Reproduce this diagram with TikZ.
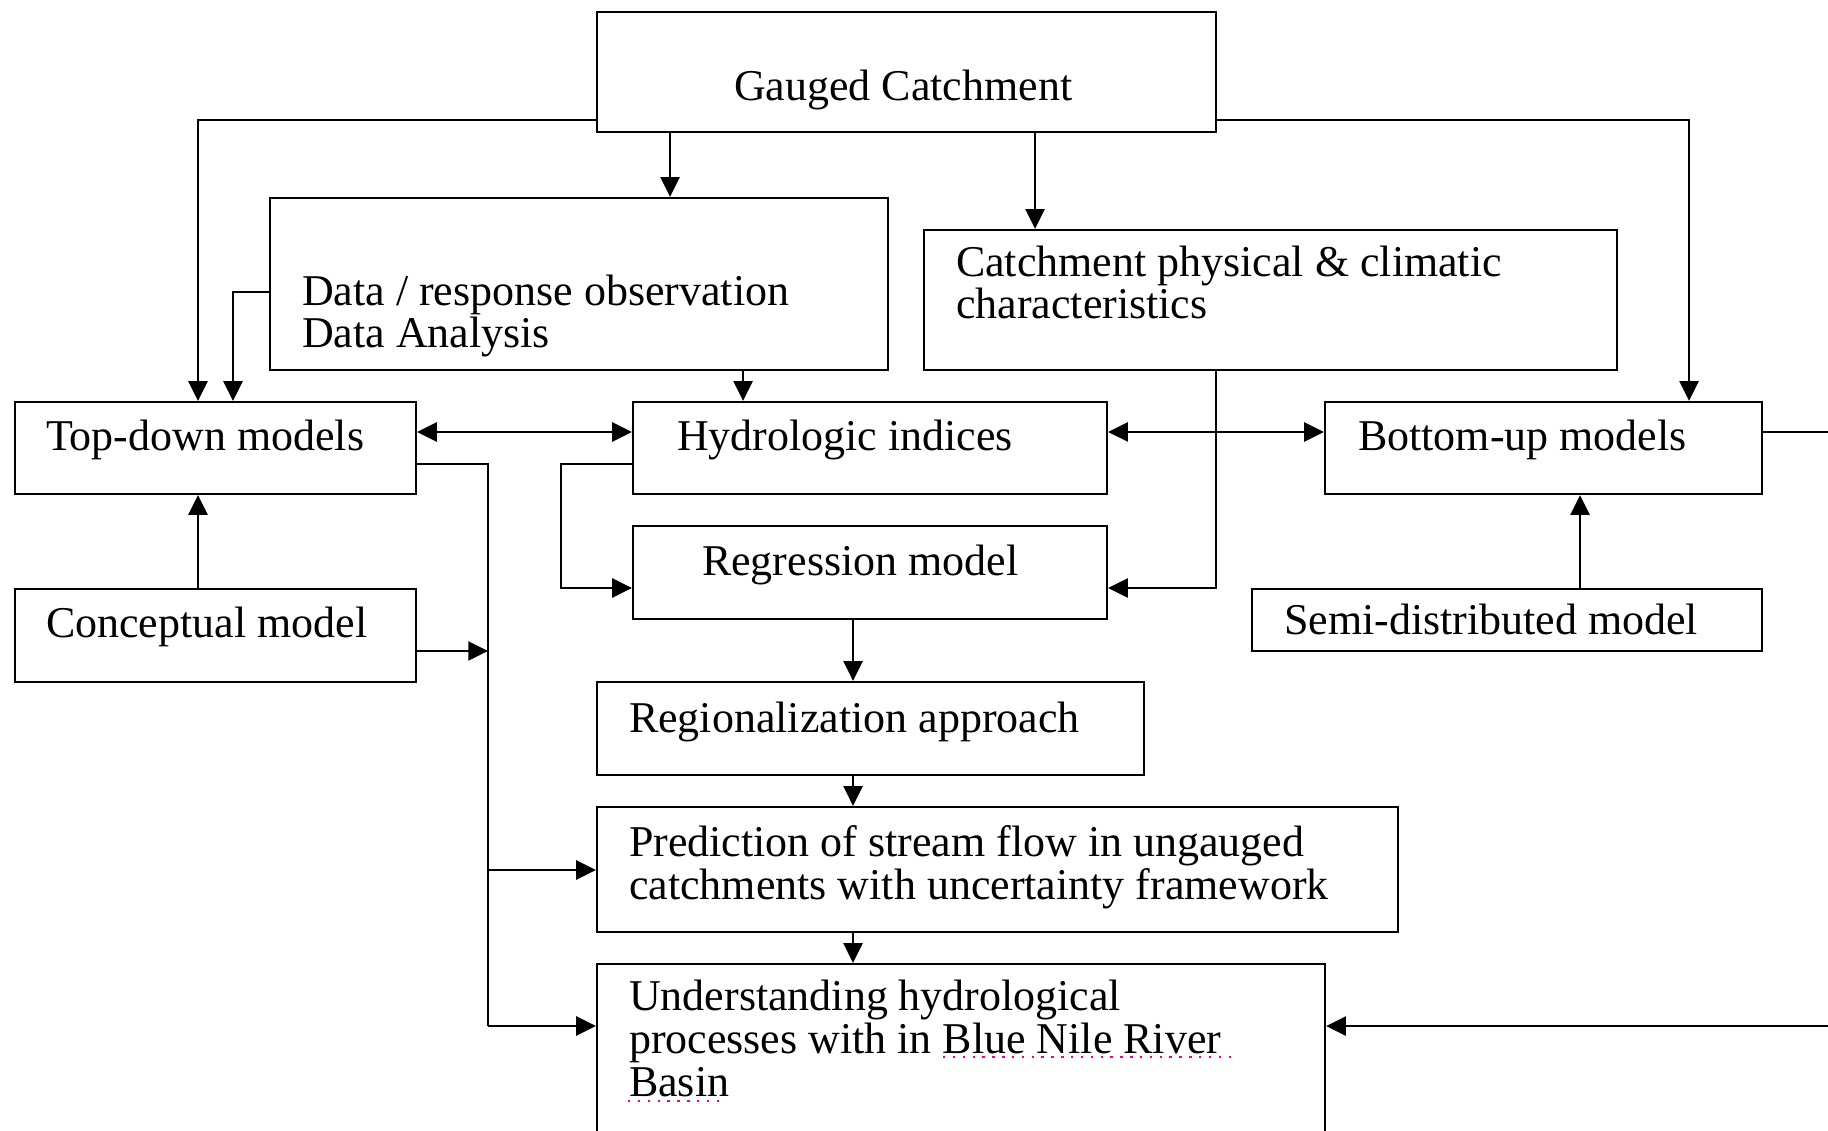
\documentclass[tikz,border=0pt]{standalone}
\usepackage{fontspec}
\setmainfont{Liberation Serif}
\usetikzlibrary{arrows.meta,fit}

\begin{document}
\begin{tikzpicture}[x=0.01cm,y=-0.01cm,line width=0.65pt,
  box/.style={draw,inner sep=0pt},
  txt/.style={anchor=base west,inner sep=0pt,align=left,font=\fontsize{12.5}{12.2}\selectfont},
  arr/.style={-{Triangle[length=5.6pt,width=5.4pt]}},
  dbl/.style={{Triangle[length=5.6pt,width=5.4pt]}-{Triangle[length=5.6pt,width=5.4pt]}},
  spell/.style={magenta,line width=0.7pt,dash pattern=on 0.7pt off 2.1pt}]

\useasboundingbox (0,0) rectangle (1828,1131);

\node[box,fit={(597,12) (1216,132)}] (gauged) {};
\node[box,fit={(270,198) (888,370)}] (data) {};
\node[box,fit={(924,230) (1617,370)}] (phys) {};
\node[box,fit={(15,402) (416,494)}] (topdown) {};
\node[box,fit={(633,402) (1107,494)}] (hydro) {};
\node[box,fit={(1325,402) (1762,494)}] (bottomup) {};
\node[box,fit={(633,526) (1107,619)}] (regress) {};
\node[box,fit={(15,589) (416,682)}] (concept) {};
\node[box,fit={(1252,589) (1762,651)}] (semi) {};
\node[box,fit={(597,682) (1144,775)}] (region) {};
\node[box,fit={(597,807) (1398,932)}] (predict) {};
\node[box,fit={(597,964) (1325,1170)}] (underst) {};

\node[txt] (gauged-t) at (733,101) {Gauged Catchment};
\node[txt] (data-t) at (301,348) {Data / response observation\\Data Analysis};
\node[txt] (phys-t) at (955,319) {Catchment physical \& climatic\\characteristics};
\node[txt] (topdown-t) at (45,451) {Top-down models};
\node[txt] (hydro-t) at (676,451) {Hydrologic indices};
\node[txt] (bottomup-t) at (1357,451) {Bottom-up models};
\node[txt] (regress-t) at (701,575) {Regression model};
\node[txt] (concept-t) at (45,637) {Conceptual model};
\node[txt] (semi-t) at (1283,634) {Semi-distributed model};
\node[txt] (region-t) at (628,732) {Regionalization approach};
\node[txt] (predict-t) at (628,899) {Prediction of stream flow in ungauged\\catchments with uncertainty framework};
\node[txt] (underst-t) at (628,1096) {Understanding hydrological\\processes with in Blue Nile River\\Basin};

\draw[spell] (943,1057) -- (1236,1057);
\draw[spell] (628,1101) -- (720,1101);

\coordinate (bus1) at (488,651);
\coordinate (bus2) at (488,870);
\coordinate (bus3) at (488,1026);
\coordinate (offr) at (1850,432);

\draw[arr] (gauged.west |- 0,120) -| (topdown.north -| 198,0);
\draw[arr] (data.west |- 0,292) -| (topdown.north -| 233,0);
\draw[arr] (gauged.south -| 670,0) -- (data.north -| 670,0);
\draw[arr] (gauged.south -| 1035,0) -- (phys.north -| 1035,0);
\draw[arr] (gauged.east |- 0,120) -| (bottomup.north -| 1689,0);
\draw[arr] (data.south -| 743,0) -- (hydro.north -| 743,0);
\draw[dbl] (topdown.east |- 0,432) -- (hydro.west |- 0,432);
\draw[dbl] (hydro.east |- 0,432) -- (bottomup.west |- 0,432);
\draw[arr] (phys.south -| 1216,0) |- (regress.east |- 0,588);
\draw[arr] (hydro.west |- 0,464) -| (561,588) -- (regress.west |- 0,588);
\draw[arr] (concept.north -| 198,0) -- (topdown.south -| 198,0);
\draw (topdown.east |- 0,464) -| (bus3);
\draw[arr] (concept.east |- bus1) -- (bus1);
\draw[arr] (bus2) -- (predict.west |- bus2);
\draw[arr] (bus3) -- (underst.west |- bus3);
\draw[arr] (regress.south -| 853,0) -- (region.north -| 853,0);
\draw[arr] (region.south -| 853,0) -- (predict.north -| 853,0);
\draw[arr] (predict.south -| 853,0) -- (underst.north -| 853,0);
\draw[arr] (semi.north -| 1580,0) -- (bottomup.south -| 1580,0);
\draw[arr] (bottomup.east |- offr) -- (offr) |- (underst.east |- bus3);

\end{tikzpicture}
\end{document}
